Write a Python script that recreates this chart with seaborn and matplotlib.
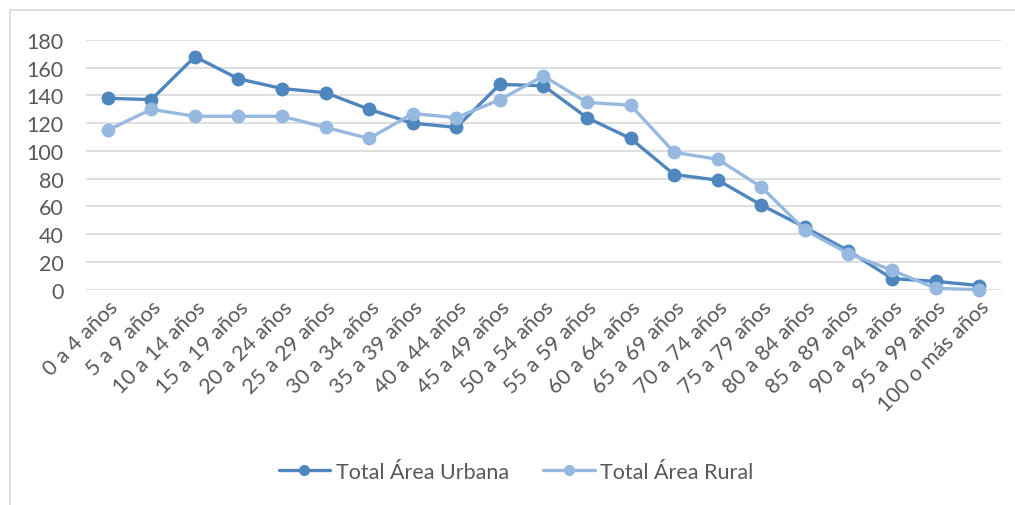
import pandas as pd
import seaborn as sns
import matplotlib.pyplot as plt
from matplotlib.patches import Rectangle

# Data
grupos = ["0 a 4 años", "5 a 9 años", "10 a 14 años", "15 a 19 años", "20 a 24 años",
          "25 a 29 años", "30 a 34 años", "35 a 39 años", "40 a 44 años", "45 a 49 años",
          "50 a 54 años", "55 a 59 años", "60 a 64 años", "65 a 69 años", "70 a 74 años",
          "75 a 79 años", "80 a 84 años", "85 a 89 años", "90 a 94 años", "95 a 99 años",
          "100 o más años"]
urbana = [138, 137, 168, 152, 145, 142, 130, 120, 117, 148, 147, 124, 109, 83, 79,
          61, 45, 28, 8, 6, 3]
rural = [115, 130, 125, 125, 125, 117, 109, 127, 124, 137, 154, 135, 133, 99, 94,
         74, 43, 26, 14, 1, 0]
series = ["Total Área Urbana", "Total Área Rural"]
colores = ["#4F86BE", "#97B9E0"]

df = pd.DataFrame({"grupo": grupos * 2,
                   "valor": urbana + rural,
                   "serie": [series[0]] * len(grupos) + [series[1]] * len(grupos)})

sns.set_style("white")
plt.rcParams["font.family"] = ["Lato", "DejaVu Sans"]
texto = "#595959"

fig = plt.figure(figsize=(10.15, 5.06), dpi=100)
ax = fig.add_axes([0.0847, 0.4255, 0.9015, 0.4935])

sns.lineplot(data=df, x="grupo", y="valor", hue="serie", palette=colores,
             marker="o", markersize=10, markeredgewidth=0, linewidth=2.4,
             sort=False, ax=ax, clip_on=False)

ax.set_xlim(-0.5, len(grupos) - 0.5)
ax.set_ylim(0, 180)
ax.set_yticks(range(0, 181, 20))
ax.yaxis.grid(True, color="#D9D9D9", linewidth=1.2)
ax.xaxis.grid(False)
for s in ax.spines.values():
    s.set_visible(False)
ax.set_xlabel("")
ax.set_ylabel("")
ax.tick_params(axis="y", labelsize=15.5, labelcolor=texto, length=0, pad=16)
ax.tick_params(axis="x", labelsize=15.5, labelcolor=texto, length=0, pad=5)
plt.setp(ax.get_xticklabels(), rotation=45, ha="right", rotation_mode="anchor")

ax.legend(loc="center", frameon=False, ncol=2, fontsize=15.5, labelcolor=texto,
          handlelength=2.4, handletextpad=0.25, columnspacing=1.6, markerscale=0.8)
leg = ax.get_legend()
leg.set_bbox_to_anchor((516 / 1015, 1 - 473 / 506), transform=fig.transFigure)

fig.add_artist(Rectangle((10 / 1015, -0.01), 1.1, 1 - 11 / 506 + 0.01,
                         transform=fig.transFigure, fill=False,
                         edgecolor="#D9D9D9", linewidth=1.2))

fig.savefig("out.png", dpi=100)
